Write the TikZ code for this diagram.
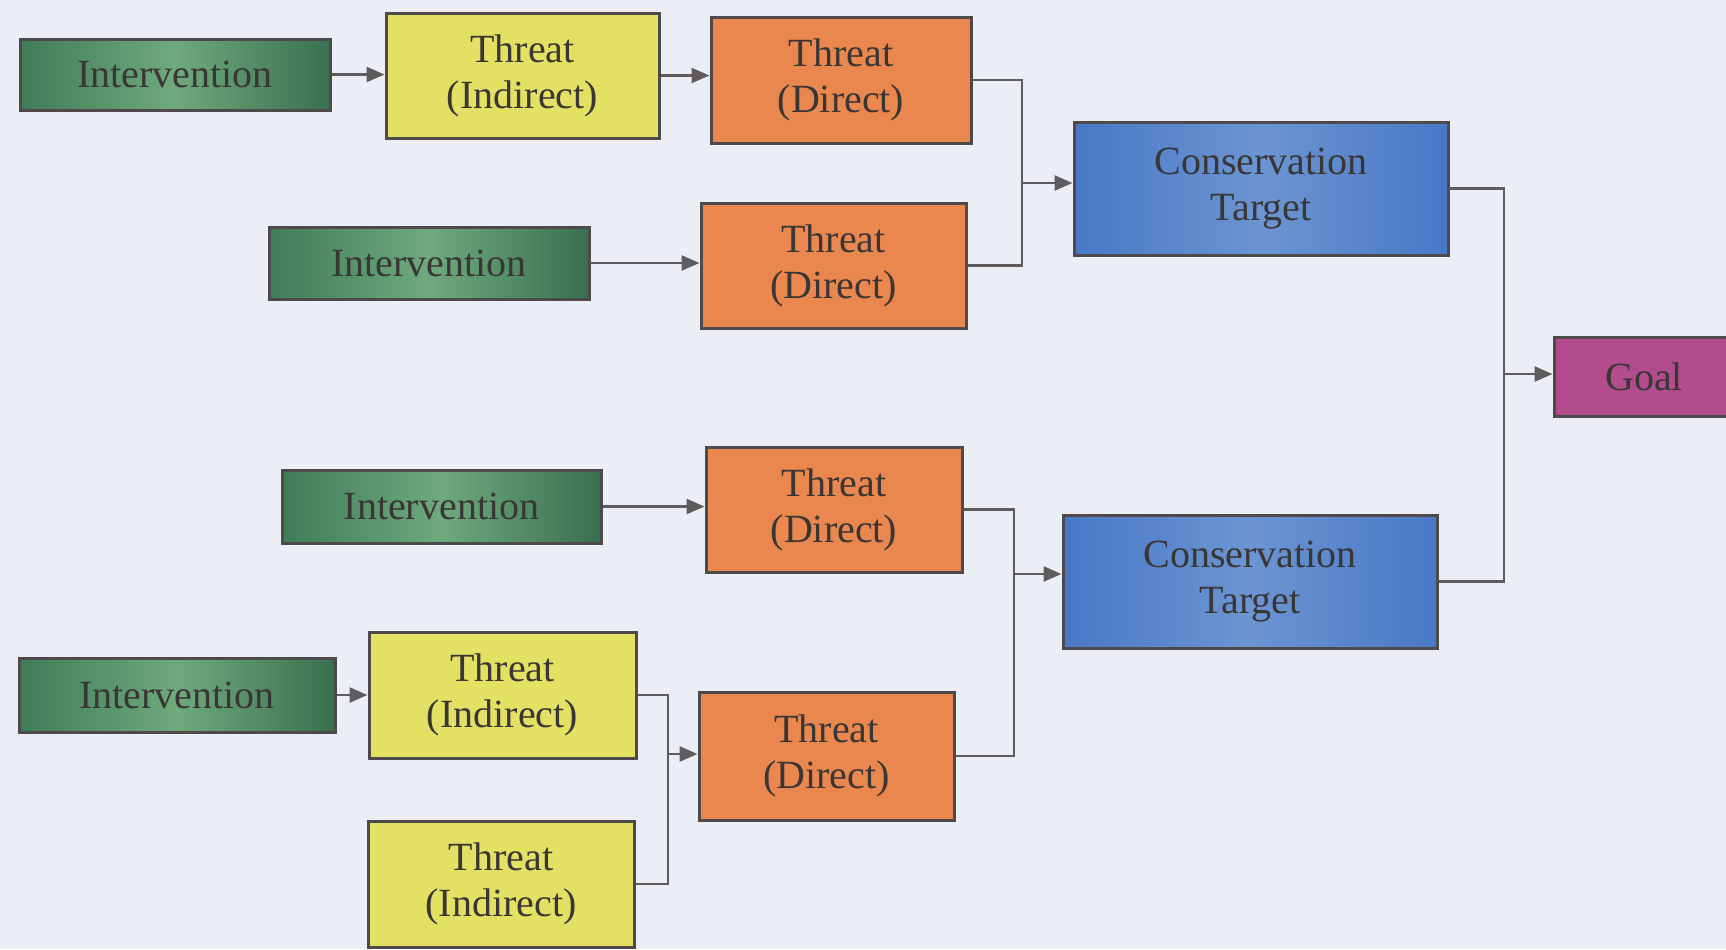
\documentclass[tikz,border=0pt]{standalone}
\usepackage{fontspec}
\setmainfont{Liberation Serif}
\usetikzlibrary{arrows.meta}
\definecolor{bgc}{HTML}{ECEEF5}
\definecolor{edgec}{HTML}{4E4A4C}
\definecolor{txtc}{HTML}{3A3636}
\definecolor{grA}{HTML}{3F7C58}
\definecolor{grB}{HTML}{6EAA7C}
\definecolor{yel}{HTML}{E4E063}
\definecolor{ora}{HTML}{E9874E}
\definecolor{blA}{HTML}{4878C6}
\definecolor{blB}{HTML}{6B95D2}
\definecolor{mag}{HTML}{B24C8C}
\tikzset{
  box/.style={draw=edgec, line width=1.5pt, rectangle, inner sep=0pt, align=center,
    text=txtc, font=\fontsize{20}{23}\selectfont},
  interv/.style={box, left color=grA, right color=grA!90!black, middle color=grB},
  indirect/.style={box, fill=yel},
  direct/.style={box, fill=ora},
  target/.style={box, left color=blA, right color=blA, middle color=blB},
  goalbox/.style={box, fill=mag},
  conn/.style={draw=edgec!90, line width=1.3pt},
  arr/.style={conn, -{Triangle[length=9pt,width=7.5pt]}}
}
\begin{document}
\begin{tikzpicture}[x=0.5pt,y=-0.5pt]
\fill[bgc] (0,0) rectangle (1726,949);
\useasboundingbox (0,0) rectangle (1726,949);
\clip (0,0) rectangle (1726,949);
% nodes
\node[interv, minimum width=155pt, minimum height=35.5pt] (I1) at (175,74.5) {Intervention};
\node[indirect, minimum width=136.5pt, minimum height=62.5pt] (TI1) at (522.5,75.5) {Threat\\(Indirect)};
\node[direct, minimum width=130pt, minimum height=63pt] (TD1) at (841,80) {Threat\\(Direct)};
\node[interv, minimum width=160pt, minimum height=36pt] (I2) at (429,263) {Intervention};
\node[direct, minimum width=132.5pt, minimum height=62.5pt] (TD2) at (833.5,265.5) {Threat\\(Direct)};
\node[target, minimum width=187pt, minimum height=66.5pt] (CT1) at (1261,188.5) {Conservation\\Target};
\node[goalbox, minimum width=90pt, minimum height=39.5pt] (G) at (1644,376.5) {Goal};
\node[interv, minimum width=159.5pt, minimum height=36.5pt] (I3) at (441.5,506.5) {Intervention};
\node[direct, minimum width=128pt, minimum height=62.5pt] (TD3) at (834,509.5) {Threat\\(Direct)};
\node[target, minimum width=187pt, minimum height=66.5pt] (CT2) at (1250,581.5) {Conservation\\Target};
\node[interv, minimum width=158pt, minimum height=37pt] (I4) at (177,695) {Intervention};
\node[indirect, minimum width=133.5pt, minimum height=63pt] (TI2) at (502.5,695) {Threat\\(Indirect)};
\node[direct, minimum width=127.5pt, minimum height=64pt] (TD4) at (826.5,756) {Threat\\(Direct)};
\node[indirect, minimum width=133pt, minimum height=63pt] (TI3) at (501,884) {Threat\\(Indirect)};
% merge points
\coordinate (m1) at (1022,183);
\coordinate (m2) at (1504,374);
\coordinate (m3) at (1014,574);
\coordinate (m4) at (668,754);
% connectors
\draw[arr] (I1.east) -- (I1.east -| TI1.west);
\draw[arr] (TI1.east) -- (TI1.east -| TD1.west);
\draw[arr] (I2.east) -- (I2.east -| TD2.west);
\draw[arr] (I3.east) -- (I3.east -| TD3.west);
\draw[arr] (I4.east) -- (I4.east -| TI2.west);
\draw[conn] (TD1.east) -| (m1);
\draw[conn] (TD2.east) -| (m1);
\draw[arr] (m1) -- (m1 -| CT1.west);
\draw[conn] (CT1.east) -| (m2);
\draw[conn] (CT2.east) -| (m2);
\draw[arr] (m2) -- (m2 -| G.west);
\draw[conn] (TD3.east) -| (m3);
\draw[conn] (TD4.east) -| (m3);
\draw[arr] (m3) -- (m3 -| CT2.west);
\draw[conn] (TI2.east) -| (m4);
\draw[conn] (TI3.east) -| (m4);
\draw[arr] (m4) -- (m4 -| TD4.west);
\end{tikzpicture}
\end{document}
